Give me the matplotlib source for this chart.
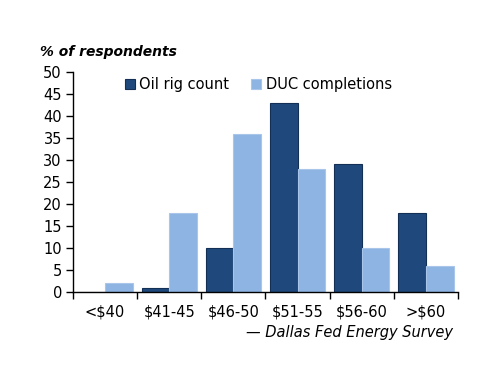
import numpy as np
import matplotlib.pyplot as plt

plt.rcParams['font.family'] = ['DejaVu Sans']

categories = ['<$40', '$41-45', '$46-50', '$51-55', '$56-60', '>$60']
oil_rig = [0, 1, 10, 43, 29, 18]
duc = [2, 18, 36, 28, 10, 6]

dark = '#1F497D'
light = '#8DB4E2'

fig = plt.figure(figsize=(5, 3.86), dpi=100)
ax = fig.add_axes([0.146, 0.2435, 0.77, 0.57])

x = np.arange(len(categories))
w = 0.43
ax.bar(x - w / 2, oil_rig, w, color=dark, edgecolor='#132f55', linewidth=0.8, label='Oil rig count')
ax.bar(x + w / 2, duc, w, color=light, edgecolor='#a9c6ea', linewidth=0.8, label='DUC completions')

ax.set_xlim(-0.5, len(categories) - 0.5)
ax.set_ylim(0, 50)
ax.set_yticks(range(0, 51, 5))
ax.set_xticks(x)
ax.set_xticklabels(categories)
ax.set_xticks(np.arange(-0.5, len(categories), 1), minor=True)
ax.tick_params(axis='x', which='major', length=0, pad=9, labelsize=10.5)
ax.tick_params(axis='x', which='minor', length=5, direction='out', width=1)
ax.tick_params(axis='y', length=5, direction='out', width=1, labelsize=10.5, pad=3)

for s in ['top', 'right']:
    ax.spines[s].set_visible(False)
ax.spines['left'].set_linewidth(1)
ax.spines['bottom'].set_linewidth(1)

ax.legend(loc='upper left', bbox_to_anchor=(0.1, 1.035), ncol=2, frameon=False,
          fontsize=10.5, handlelength=0.7, handleheight=0.7, handletextpad=0.3,
          columnspacing=1.5)

fig.text(0.08, 0.855, '% of respondents', fontsize=10, fontweight='bold', style='italic')
fig.text(0.906, 0.128, '— Dallas Fed Energy Survey', fontsize=10.5, style='italic', ha='right')

fig.savefig('out.png', dpi=100)
